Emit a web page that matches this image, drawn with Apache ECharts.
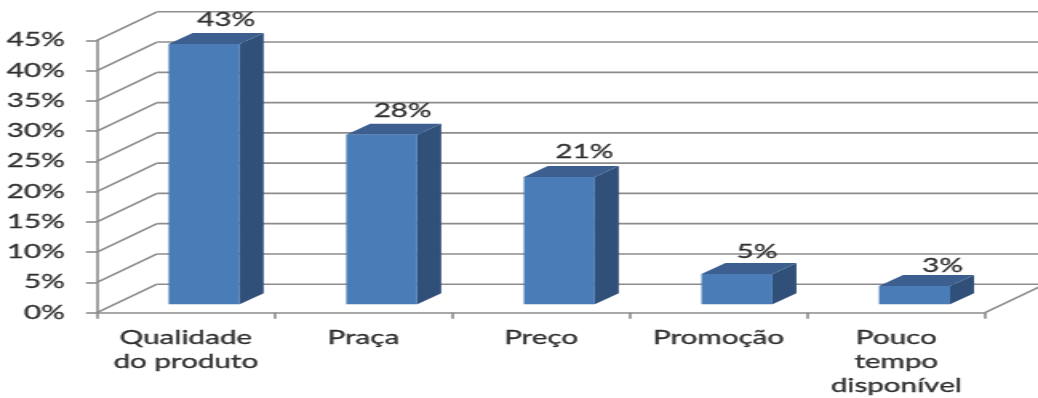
<!DOCTYPE html>
<html><head><meta charset="utf-8">
<style>
html,body{margin:0;padding:0;background:#fff;overflow:hidden;width:1038px;height:398px}
#c{width:649px;height:398px;transform:scaleX(1.5994);transform-origin:0 0;filter:blur(0.35px)}
</style>
<script src="https://cdn.jsdelivr.net/npm/echarts@6/dist/echarts.min.js"></script>
</head><body><div id="c"></div>
<script>
const categories = ['Qualidade\ndo produto', 'Praça', 'Preço', 'Promoção', 'Pouco\ntempo\ndisponível'];
const shares = [43, 28, 21, 5, 3];
const axisTicks = [0, 5, 10, 15, 20, 25, 30, 35, 40, 45];

const S = 1038 / 649;
const FONT = 'Lato';
const SIZE = 18.5;
const TEXT = '#303030', LINE = '#8c8c8c';
const WALL_DX = 60 / S, WALL_DY = 28.5;
const FLOOR_DX = 18.3 / S, FLOOR_DY = 8.5;
const BAR_W = 71 / S, BAR_DX = 24 / S, BAR_DY = 11;
const LABEL_NUDGE_X = [0, -1, 3, -2, 6];
const LABEL_NUDGE_Y = [0, 0, -1, 2, 4];

const chart = echarts.init(document.getElementById('c'), null, {renderer: 'canvas'});

function renderWall(params, api) {
  const v = api.value(0), cs = params.coordSys;
  const y = api.coord([0, v])[1];
  const style = {stroke: LINE, lineWidth: 1.6, fill: null};
  const kids = [
    {type: 'line', shape: {x1: cs.x, y1: y, x2: cs.x + WALL_DX, y2: y - WALL_DY}, style},
    {type: 'line', shape: {x1: cs.x + WALL_DX, y1: y - WALL_DY, x2: cs.x + cs.width + WALL_DX, y2: y - WALL_DY}, style}
  ];
  if (v === 0) kids.push({type: 'line', shape: {x1: cs.x + cs.width, y1: y, x2: cs.x + cs.width + WALL_DX, y2: y - WALL_DY}, style});
  return {type: 'group', children: kids};
}

function renderBar(params, api) {
  const i = api.value(0), v = api.value(1);
  const b = api.coord([i, 0]), t = api.coord([i, v]);
  const l = b[0] + FLOOR_DX - BAR_W / 2, r = l + BAR_W;
  const y0 = b[1] - FLOOR_DY, y1 = t[1] - FLOOR_DY;
  return {type: 'group', children: [
    {type: 'polygon', shape: {points: [[r, y1], [r + BAR_DX, y1 - BAR_DY], [r + BAR_DX, y0 - BAR_DY], [r, y0]]}, style: {fill: '#315079'}},
    {type: 'polygon', shape: {points: [[l, y1], [l + BAR_DX, y1 - BAR_DY], [r + BAR_DX, y1 - BAR_DY], [r, y1]]}, style: {fill: '#3c5f8f'}},
    {type: 'rect', shape: {x: l, y: y1, width: BAR_W, height: y0 - y1}, style: {fill: '#4a7cb8'}},
    {type: 'text', style: {text: v + '%', x: (l + r) / 2 + (22 + LABEL_NUDGE_X[i]) / S, y: y1 - 24 + LABEL_NUDGE_Y[i], align: 'center', verticalAlign: 'middle', fontFamily: FONT, fontSize: SIZE, fill: TEXT, stroke: TEXT, lineWidth: 0.3}}
  ]};
}

chart.setOption({
  animation: false,
  backgroundColor: '#fff',
  grid: {left: 97 / S, right: 649 - 985 / S, top: 40.3, bottom: 398 - 312.7},
  xAxis: {
    type: 'category', data: categories, boundaryGap: true,
    axisLine: {show: true, lineStyle: {color: LINE, width: 1.6}},
    axisTick: {show: true, alignWithLabel: false, length: 6, lineStyle: {color: LINE, width: 1.6}},
    axisLabel: {interval: 0, margin: 13, fontFamily: FONT, fontSize: SIZE, color: TEXT, textBorderColor: TEXT, textBorderWidth: 0.3, lineHeight: 24, align: 'center', verticalAlign: 'top'},
    splitLine: {show: false}
  },
  yAxis: {
    type: 'value', min: 0, max: 45, interval: 5,
    axisLine: {show: true, lineStyle: {color: LINE, width: 1.6}},
    axisTick: {show: true, length: 11 / S, lineStyle: {color: LINE, width: 1.6}},
    axisLabel: {margin: 32 / S, fontFamily: FONT, fontSize: SIZE, color: TEXT, textBorderColor: TEXT, textBorderWidth: 0.3, formatter: '{value}%'},
    splitLine: {show: false}
  },
  series: [
    {type: 'custom', coordinateSystem: 'cartesian2d', clip: false, z: 1, silent: true,
     data: axisTicks.map(v => [v]), encode: {y: 0}, renderItem: renderWall},
    {type: 'custom', coordinateSystem: 'cartesian2d', clip: false, z: 2, silent: true,
     data: shares.map((v, i) => [i, v]), encode: {x: 0, y: 1}, renderItem: renderBar}
  ]
});
</script></body></html>
